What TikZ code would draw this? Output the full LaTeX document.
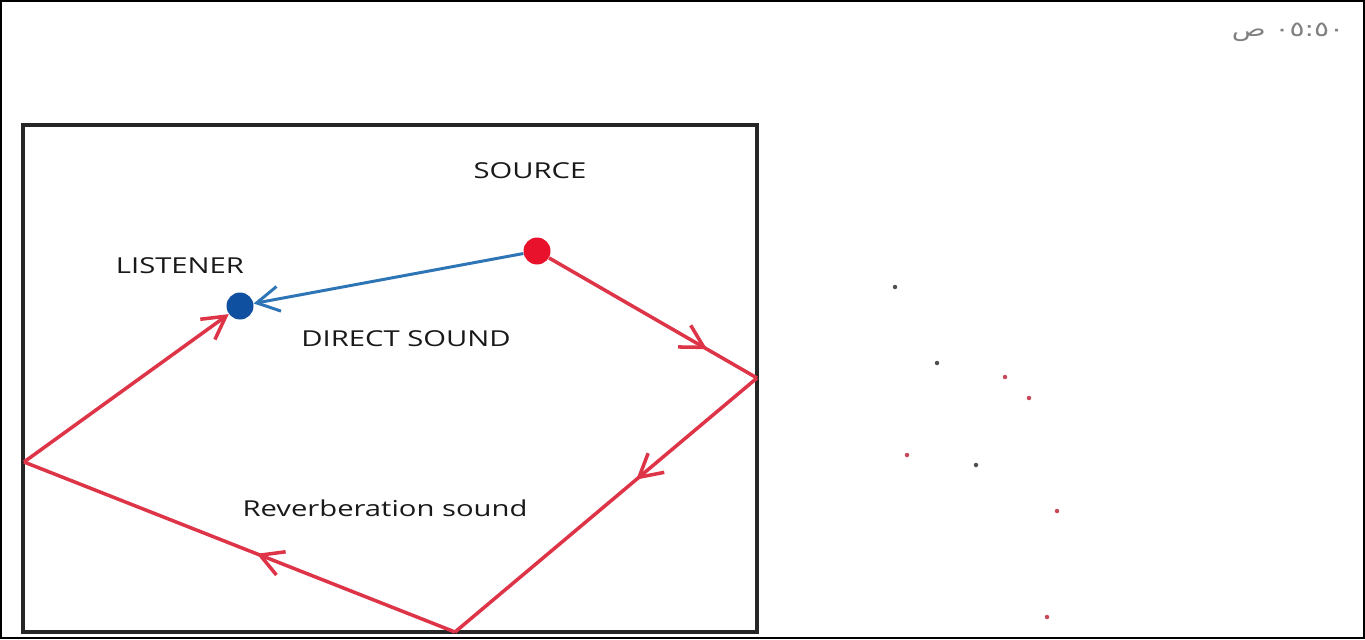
\documentclass[tikz,border=0pt]{standalone}
\usepackage{fontspec}
\usepackage{graphicx}
\setmainfont{Open Sans}
\newfontfamily\arabicfont[Script=Arabic]{DejaVu Sans}
\TeXXeTstate=1
\usetikzlibrary{arrows.meta,decorations.markings}
\definecolor{wave}{RGB}{222,52,72}
\definecolor{direct}{RGB}{46,117,182}
\definecolor{lisblue}{RGB}{16,80,160}
\definecolor{srcred}{RGB}{232,18,44}
\definecolor{speckgray}{RGB}{80,80,80}
\definecolor{speckred}{RGB}{200,70,90}
\newcommand{\wide}[1]{\scalebox{1.33}[1]{#1}}
\tikzset{barb/.tip={Straight Barb[length=4.5mm,width=5mm]}}

\begin{document}
\begin{tikzpicture}[x=0.02cm,y=-0.02cm,font=\fontsize{12.5}{15}\selectfont,
  dot/.style={circle,inner sep=0pt,minimum size=0.54cm},
  speck/.style={circle,inner sep=0pt,minimum size=0.09cm},
  lbl/.style={text=black!90},
  ray/.style={wave,line width=2pt},
  mid/.style={postaction={decorate},decoration={markings,mark=at position #1 with {\arrow{barb}}}}]
  \useasboundingbox (0,0) rectangle (1365,639);
  \draw[line width=0.8pt] (1,1) rectangle (1364,638);
  \draw[line width=2.3pt,black!85] (23,125) rectangle (757,632);
  \node[lbl] (srclbl) at (530,171) {\wide{SOURCE}};
  \node[lbl] (lislbl) at (180,266) {\wide{LISTENER}};
  \node[lbl] (directlbl) at (406,339) {\wide{DIRECT SOUND}};
  \node[lbl] (reverblbl) at (385,508) {\wide{Reverberation sound}};
  \node[dot,fill=srcred] (src) at (537,251) {};
  \node[dot,fill=lisblue] (lis) at (240,306) {};
  \coordinate (r1) at (757,378); \coordinate (r2) at (455,632); \coordinate (r3) at (24,462);
  \draw[direct,line width=1.7pt,-barb] (src) -- (lis);
  \draw[ray,mid=0.76] (src) -- (r1);
  \draw[ray,mid=0.4] (r1) -- (r2);
  \draw[ray,mid=0.46] (r2) -- (r3);
  \draw[ray,-barb] (r3) -- (lis);
  \foreach \x/\y/\c [count=\i] in {895/287/speckgray,937/363/speckgray,1005/377/speckred,1029/398/speckred,
    907/455/speckred,976/465/speckgray,1057/511/speckred,1047/617/speckred}
    \node[speck,fill=\c] (d\i) at (\x,\y) {};
  \node[text=black!50] (clock) at (1288,32) {\wide{\arabicfont\fontsize{12}{14}\selectfont\beginR ٠٥:٥٠ ص\endR}};
\end{tikzpicture}
\end{document}
